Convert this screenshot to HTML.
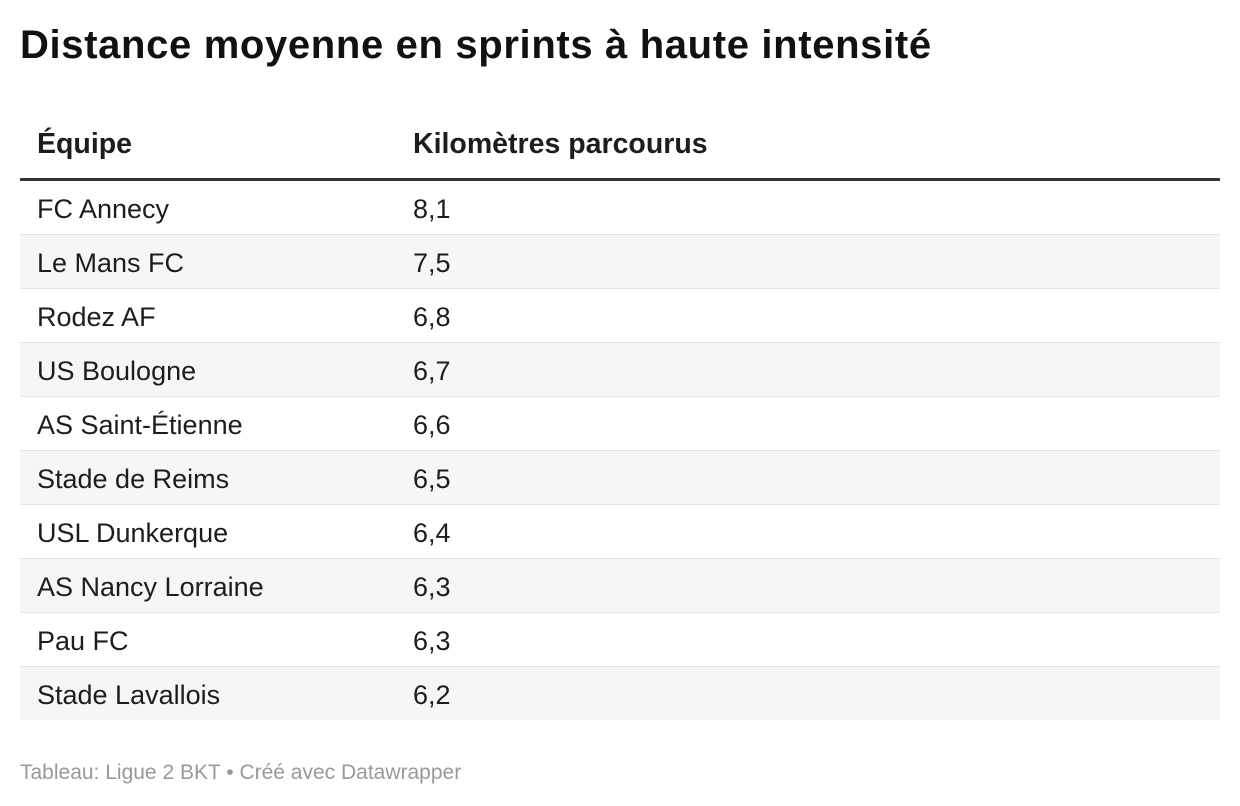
<!DOCTYPE html>
<html><head><meta charset="utf-8"><style>
body{margin:0;width:1240px;height:806px;background:#fff;font-family:"Liberation Sans",Arial,sans-serif;color:#1d1d1d;position:relative;overflow:hidden}
.t{position:absolute;left:20px;top:23px;font-size:40px;font-weight:bold;letter-spacing:0.65px;color:#111}
.h{position:absolute;top:128px;font-size:28.5px;font-weight:bold;color:#1d1d1d}
.line{position:absolute;left:20px;width:1200px;top:178px;height:3px;background:#333}
.r{position:absolute;left:20px;width:1200px;height:53px;border-bottom:1px solid #e3e3e3;font-size:27px}
.r.g{background:#f6f6f6}
.r span{position:absolute;top:13px}
.a{left:17px}.b{left:393px}
.f{position:absolute;left:20px;top:761px;font-size:21px;color:#999}
</style></head><body>
<div class="t">Distance moyenne en sprints à haute intensité</div>
<div class="h" style="left:37px">Équipe</div>
<div class="h" style="left:413px">Kilomètres parcourus</div>
<div class="line"></div>
<div class="r" style="top:181px"><span class="a">FC Annecy</span><span class="b">8,1</span></div>
<div class="r g" style="top:235px"><span class="a">Le Mans FC</span><span class="b">7,5</span></div>
<div class="r" style="top:289px"><span class="a">Rodez AF</span><span class="b">6,8</span></div>
<div class="r g" style="top:343px"><span class="a">US Boulogne</span><span class="b">6,7</span></div>
<div class="r" style="top:397px"><span class="a">AS Saint-Étienne</span><span class="b">6,6</span></div>
<div class="r g" style="top:451px"><span class="a">Stade de Reims</span><span class="b">6,5</span></div>
<div class="r" style="top:505px"><span class="a">USL Dunkerque</span><span class="b">6,4</span></div>
<div class="r g" style="top:559px"><span class="a">AS Nancy Lorraine</span><span class="b">6,3</span></div>
<div class="r" style="top:613px"><span class="a">Pau FC</span><span class="b">6,3</span></div>
<div class="r g" style="top:667px;border-bottom:none"><span class="a">Stade Lavallois</span><span class="b">6,2</span></div>
<div class="f">Tableau: Ligue 2 BKT • Créé avec Datawrapper</div>
</body></html>
